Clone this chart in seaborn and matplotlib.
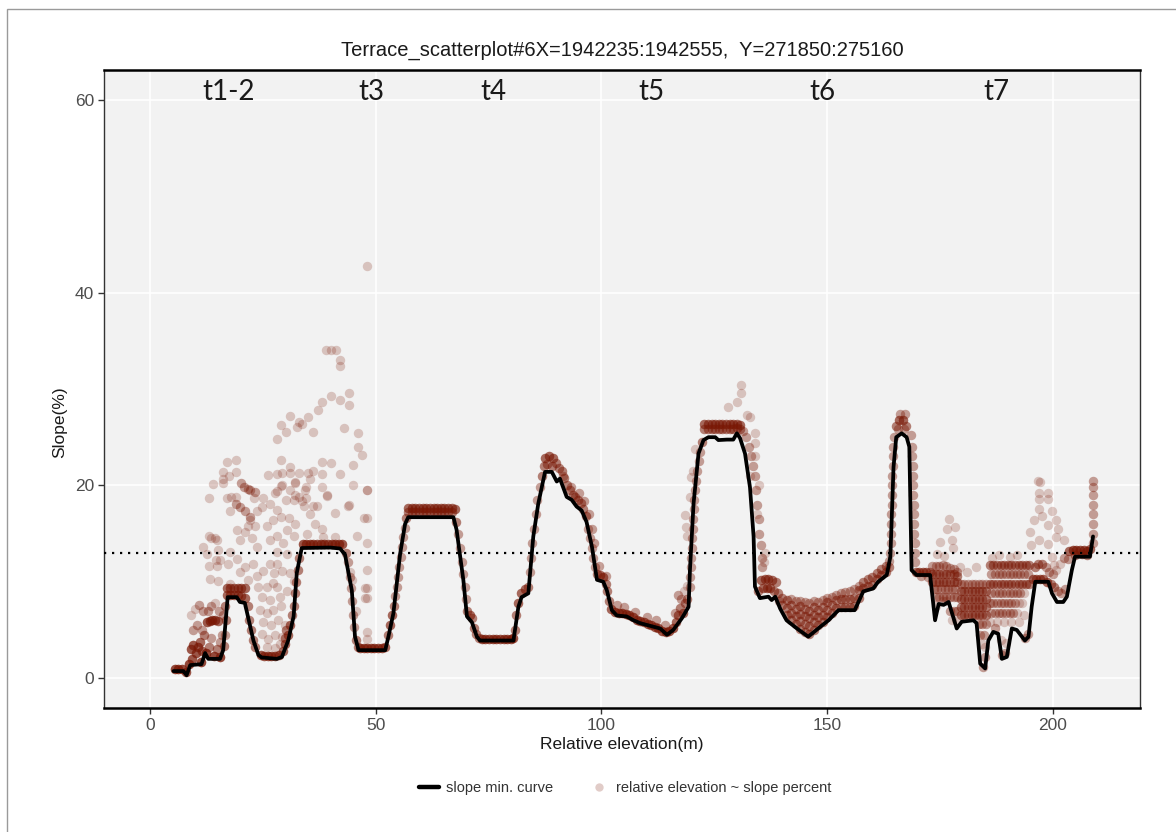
import numpy as np
import pandas as pd
import matplotlib
matplotlib.use("Agg")
import matplotlib.pyplot as plt
import seaborn as sns
from matplotlib.lines import Line2D

# ---------------- data ----------------
title = "Terrace_scatterplot#6X=1942235:1942555,  Y=271850:275160"
terrace_labels = ["t1-2", "t3", "t4", "t5", "t6", "t7"]
terrace_label_x = [17.3, 49.0, 76.0, 111.0, 149.0, 187.6]
threshold = 13

curve_x = [5.2, 7.4, 8.1, 8.9, 11.4, 12.2, 12.9, 15.5, 16.2, 17.2, 19.2, 19.9, 21.0, 22.9, 24.0, 24.7,
           28.1, 29.2, 30.6, 31.8, 32.5, 33.6, 39.9, 42.1, 43.2, 44.7, 45.4, 46.2, 52.1, 52.8, 53.9,
           55.4, 56.5, 57.2, 67.2, 67.9, 69.4, 70.2, 71.3, 72.4, 73.1, 80.5, 81.6, 82.3, 83.8, 84.9,
           86.0, 87.5, 89.0, 90.1, 90.8, 92.3, 93.4, 94.5, 95.6, 96.7, 97.9, 99.0, 100.4, 101.2,
           102.3, 103.4, 105.6, 107.1, 108.6, 113.0, 114.5, 115.9, 117.8, 119.3, 119.6, 120.4, 121.5,
           122.6, 123.7, 125.2, 125.9, 127.8, 129.2, 130.0, 130.7, 131.8, 132.9, 133.7, 134.0, 135.1,
           137.0, 137.7, 138.5, 139.6, 141.0, 143.3, 145.8, 148.4, 150.3, 152.5, 156.1, 158.0, 160.2,
           161.3, 163.2, 164.0, 164.7, 165.3, 166.5, 167.6, 168.2, 168.7, 169.8, 172.8, 173.9, 174.7,
           175.8, 176.9, 178.7, 179.8, 182.4, 183.1, 183.9, 185.0, 185.7, 186.8, 187.9, 188.7, 189.8,
           190.9, 192.0, 193.8, 194.6, 195.3, 196.1, 199.0, 199.8, 200.9, 202.3, 203.1, 204.2, 204.9,
           208.2, 208.9]
curve_y = [0.73, 0.73, 0.3, 1.35, 1.45, 2.6, 2.0, 2.0, 2.9, 8.4, 8.4, 7.9, 7.8, 3.9, 2.4, 2.15,
           2.0, 2.2, 3.9, 6.4, 10.9, 13.5, 13.55, 13.45, 12.8, 9.1, 4.3, 2.9, 2.9, 4.3, 6.7,
           12.9, 16.0, 16.7, 16.7, 15.4, 10.2, 6.4, 5.8, 4.3, 3.9, 3.9, 7.4, 8.4, 8.8, 14.7,
           18.1, 21.4, 21.4, 20.4, 20.7, 18.8, 18.5, 17.8, 17.4, 16.2, 13.6, 10.2, 10.0, 9.1,
           7.05, 6.5, 6.4, 6.0, 5.7, 5.15, 4.5, 5.0, 6.2, 7.4, 11.2, 18.1, 23.3,
           24.7, 25.0, 25.0, 24.7, 24.75, 24.75, 25.4, 24.9, 23.3, 19.8, 14.7, 9.5, 8.3,
           8.45, 8.1, 8.45, 7.2, 6.0, 5.15, 4.3, 5.3, 6.0, 7.05, 7.05, 9.0, 9.3,
           10.0, 10.7, 12.6, 21.9, 25.0, 25.4, 25.0, 24.0, 11.2, 10.7, 10.7, 6.0, 7.7,
           7.6, 7.9, 5.15, 5.85, 6.0, 5.7, 1.5, 1.0, 3.9, 4.8, 4.6, 2.0, 2.2,
           5.15, 5.0, 3.9, 4.3, 7.4, 10.0, 10.0, 8.8, 7.9, 7.9, 8.45, 11.2, 12.6,
           12.6, 14.7]

# scatter points near the curve: (relative elevation, slope, number of overlapping observations)
pts_t12 = [(5.5, 0.9, 6), (6.3, 0.9, 6), (7.1, 0.9, 6), (7.9, 0.6, 5),
           (8.6, 1.5, 6), (9.2, 2.0, 5), (9.0, 3.0, 5), (9.6, 3.4, 5), (10.2, 2.6, 5), (10.6, 3.2, 5),
           (11.2, 1.7, 6), (11.0, 3.8, 4), (11.6, 2.8, 4), (12.0, 4.5, 3), (12.4, 2.6, 6), (12.6, 5.8, 5),
           (13.2, 5.9, 5), (13.8, 6.0, 5), (14.4, 6.0, 5), (15.0, 5.9, 4), (13.0, 3.2, 3), (13.6, 4.2, 2),
           (14.2, 2.3, 6), (14.8, 3.0, 3), (15.4, 2.2, 6), (15.6, 3.8, 2), (12.8, 7.0, 2), (13.5, 7.5, 2),
           (14.5, 7.8, 1), (15.2, 7.0, 2), (11.5, 5.0, 2), (16.0, 4.5, 2), (16.2, 6.5, 2),
           (9.0, 6.5, 1), (10.0, 7.2, 1), (10.9, 7.6, 2), (11.8, 7.0, 2), (9.5, 5.0, 2), (10.5, 5.5, 2),
           (17.0, 9.3, 4), (17.8, 9.3, 4), (18.6, 9.3, 4), (19.4, 9.3, 4), (20.2, 9.3, 4), (21.0, 9.3, 4),
           (17.0, 8.6, 4), (17.8, 8.6, 4), (18.6, 8.6, 4), (19.4, 8.6, 4), (20.2, 8.5, 4), (21.0, 8.3, 4),
           (16.6, 7.5, 3), (16.8, 6.0, 3), (16.6, 4.5, 2), (16.4, 3.3, 3),
           (21.6, 7.5, 3), (22.0, 6.0, 3), (22.4, 5.0, 3), (22.8, 4.0, 3), (23.3, 3.2, 3),
           (24.5, 2.4, 5), (25.3, 2.3, 5), (26.1, 2.3, 5), (26.9, 2.3, 5), (27.7, 2.3, 5), (28.5, 2.4, 5),
           (29.5, 2.8, 4), (30.0, 3.5, 4), (30.6, 4.5, 4), (31.0, 5.5, 4), (31.4, 6.5, 3), (30.2, 5.0, 3),
           (29.8, 4.2, 3), (31.8, 7.5, 3), (32.1, 8.8, 3), (32.4, 10.0, 3), (32.7, 11.2, 3), (33.0, 12.5, 3),
           (20.2, 20.2, 2), (20.9, 19.8, 2), (21.6, 19.6, 2), (22.2, 19.5, 2), (23.3, 19.3, 2),
           (19.0, 18.1, 2), (20.0, 17.8, 2), (21.0, 17.3, 2), (22.1, 16.7, 2)]

pts_t3_t4 = [(33.8, 13.9, 5), (34.6, 13.9, 5), (35.4, 13.9, 5), (36.2, 13.9, 5), (37.0, 13.9, 5),
             (37.8, 13.9, 5), (38.6, 13.9, 5), (39.4, 13.9, 5), (40.2, 13.9, 5), (41.0, 13.9, 5),
             (41.8, 13.9, 5), (42.6, 13.9, 5),
             (43.3, 13.0, 3), (43.8, 12.0, 2), (44.2, 10.5, 2), (44.5, 9.3, 2), (44.8, 8.0, 2),
             (45.0, 6.5, 2), (45.2, 5.3, 2), (45.6, 4.0, 3), (46.0, 3.2, 3),
             (46.5, 3.1, 5), (47.3, 3.1, 5), (48.1, 3.1, 5), (48.9, 3.1, 5), (49.7, 3.1, 5),
             (50.5, 3.1, 5), (51.3, 3.1, 5), (52.0, 3.2, 4),
             (52.8, 4.5, 3), (53.2, 5.5, 4), (53.6, 6.5, 4), (54.0, 7.5, 3), (54.3, 8.5, 2),
             (54.6, 9.5, 2), (54.9, 10.5, 2), (55.2, 11.5, 2), (55.5, 12.6, 2), (55.8, 13.6, 2),
             (56.1, 14.6, 2), (56.4, 15.6, 2), (56.8, 16.6, 3),
             (57.2, 17.7, 4), (58.0, 17.7, 4), (58.8, 17.7, 4), (59.6, 17.7, 4), (60.4, 17.7, 4),
             (61.2, 17.7, 4), (62.0, 17.7, 4), (62.8, 17.7, 4), (63.6, 17.7, 4), (64.4, 17.7, 4),
             (65.2, 17.7, 4), (66.0, 17.7, 4), (66.8, 17.7, 4), (67.6, 17.6, 4),
             (57.2, 17.2, 3), (58.0, 17.2, 3), (58.8, 17.2, 3), (59.6, 17.2, 3), (60.4, 17.2, 3),
             (61.2, 17.2, 3), (62.0, 17.2, 3), (62.8, 17.2, 3), (63.6, 17.2, 3), (64.4, 17.2, 3),
             (65.2, 17.2, 3), (66.0, 17.2, 3), (66.8, 17.2, 3),
             (67.8, 16.2, 3), (68.2, 15.0, 2), (68.6, 13.5, 2), (69.0, 12.0, 2), (69.4, 10.8, 2),
             (69.7, 9.5, 2), (70.0, 8.2, 2), (70.3, 7.0, 3), (70.8, 6.5, 4), (71.4, 6.2, 3),
             (71.8, 5.2, 3), (72.3, 4.6, 3), (72.8, 4.2, 3),
             (73.5, 4.1, 5), (74.3, 4.1, 5), (75.1, 4.1, 5), (75.9, 4.1, 5), (76.7, 4.1, 5),
             (77.5, 4.1, 5), (78.3, 4.1, 5), (79.1, 4.1, 5), (79.9, 4.1, 5), (80.5, 4.2, 5)]

pts_t5 = [(80.8, 5.0, 3), (81.1, 6.5, 3), (81.6, 7.8, 4), (82.2, 8.8, 4), (83.0, 9.2, 4), (83.8, 9.5, 3),
          (84.1, 11.0, 2), (84.4, 12.5, 2), (84.7, 14.0, 2), (85.0, 15.5, 2), (85.4, 17.0, 2),
          (85.8, 18.5, 2), (86.3, 19.8, 2), (86.8, 21.0, 3), (87.3, 22.0, 3),
          (87.6, 22.8, 4), (88.4, 23.0, 4), (89.2, 22.8, 4), (90.0, 22.3, 3), (88.0, 22.2, 3),
          (89.0, 22.0, 3), (90.6, 21.8, 3), (91.2, 21.5, 3), (91.8, 20.8, 3), (92.4, 20.0, 3),
          (93.0, 19.5, 3), (93.6, 19.0, 3), (94.2, 18.8, 3), (94.8, 18.5, 3), (95.4, 18.2, 3),
          (96.0, 17.5, 3), (96.6, 16.8, 3), (97.0, 15.5, 2), (97.4, 14.5, 2), (97.8, 13.5, 2),
          (98.2, 12.5, 2), (98.6, 11.5, 2), (99.0, 10.8, 3), (99.6, 10.7, 4), (100.3, 10.5, 4),
          (100.9, 9.8, 3), (101.3, 9.0, 3), (101.7, 8.0, 3), (102.2, 7.2, 4),
          (103.0, 6.9, 5), (103.8, 6.8, 5), (104.6, 6.8, 5), (105.4, 6.7, 5), (106.2, 6.5, 5),
          (107.0, 6.3, 5), (107.8, 6.0, 5), (108.6, 5.9, 5), (109.4, 5.8, 5), (110.2, 5.6, 5),
          (111.0, 5.5, 5), (111.8, 5.3, 5), (112.6, 5.2, 5), (113.4, 4.9, 5), (114.2, 4.8, 5),
          (115.0, 4.9, 5), (115.8, 5.2, 5), (116.5, 5.8, 4), (117.0, 6.5, 4), (117.5, 7.3, 3),
          (118.0, 6.8, 4), (118.5, 7.8, 3), (119.0, 8.2, 3), (117.6, 8.2, 2),
          (91.5, 21.0, 2), (93.3, 19.8, 2), (95.0, 19.2, 2), (96.2, 18.4, 2), (97.3, 17.0, 2),
          (98.0, 15.5, 2), (98.4, 14.0, 2), (99.4, 11.6, 2), (101.0, 10.6, 2), (103.5, 7.6, 2),
          (105.0, 7.4, 2), (107.5, 6.9, 2), (110.0, 6.3, 2), (112.0, 6.0, 2), (114.0, 5.5, 2),
          (116.2, 6.8, 2), (117.0, 8.6, 2), (118.2, 9.0, 1), (119.0, 9.6, 1),
          (119.6, 9.5, 2), (119.6, 10.5, 2), (119.8, 11.5, 2), (119.9, 12.5, 2), (120.0, 13.5, 2),
          (120.1, 14.5, 2), (120.2, 15.5, 2), (120.3, 16.5, 2), (120.5, 17.5, 2), (120.6, 18.5, 2),
          (120.8, 19.5, 2), (121.0, 20.5, 2), (121.2, 21.5, 2), (121.5, 22.5, 2), (121.8, 23.5, 2),
          (122.2, 24.5, 3),
          (122.8, 26.4, 4), (123.6, 26.4, 4), (124.4, 26.4, 4), (125.2, 26.4, 4), (126.0, 26.4, 4),
          (126.8, 26.4, 4), (127.6, 26.4, 4), (128.4, 26.4, 4), (129.2, 26.4, 4), (130.0, 26.4, 4),
          (130.8, 26.3, 4),
          (122.8, 25.8, 3), (123.6, 25.8, 3), (124.4, 25.8, 3), (125.2, 25.8, 3), (126.0, 25.8, 3),
          (126.8, 25.8, 3), (127.6, 25.8, 3), (128.4, 25.8, 3), (129.2, 25.8, 3), (130.0, 26.0, 3),
          (130.8, 25.8, 3),
          (131.4, 25.6, 2), (132.0, 25.0, 2), (132.6, 24.0, 2), (133.2, 23.0, 2), (133.6, 22.0, 2),
          (134.0, 21.0, 2), (134.3, 19.5, 2), (134.5, 18.0, 2), (134.8, 16.5, 2), (135.0, 15.0, 2),
          (135.3, 13.8, 2), (135.6, 12.5, 2), (135.5, 11.5, 2), (136.0, 12.0, 1), (134.4, 17.0, 1),
          (134.8, 20.0, 1), (136.2, 13.0, 1), (133.0, 21.0, 1), (134.0, 23.0, 1),
          (135.4, 10.2, 4), (136.2, 10.3, 4), (137.0, 10.3, 4), (137.8, 10.2, 4), (138.6, 10.0, 3),
          (135.8, 9.3, 4), (136.6, 9.3, 4), (137.4, 9.3, 4), (138.2, 9.0, 3), (139.0, 8.8, 3),
          (134.6, 9.0, 3), (139.4, 8.0, 2)]

pts_t6 = [(140, 7.6, 3), (140, 8.3, 3),
          (141, 6.5, 3), (141, 7.3, 3), (141, 8.1, 3),
          (142, 6.0, 3), (142, 6.8, 3), (142, 7.6, 3), (142, 8.2, 2),
          (143, 5.6, 3), (143, 6.4, 3), (143, 7.2, 3), (143, 8.0, 2),
          (144, 5.1, 3), (144, 5.9, 3), (144, 6.7, 3), (144, 7.5, 3), (144, 8.0, 2),
          (145, 4.8, 3), (145, 5.6, 3), (145, 6.4, 3), (145, 7.2, 3), (145, 7.9, 2),
          (146, 4.6, 3), (146, 5.4, 3), (146, 6.2, 3), (146, 7.0, 3), (146, 7.8, 2),
          (147, 5.0, 3), (147, 5.8, 3), (147, 6.6, 3), (147, 7.4, 3), (147, 8.0, 2),
          (148, 5.5, 3), (148, 6.3, 3), (148, 7.1, 3), (148, 7.9, 2),
          (149, 5.8, 3), (149, 6.6, 3), (149, 7.4, 3), (149, 8.1, 2),
          (150, 6.3, 3), (150, 7.1, 3), (150, 7.9, 3), (150, 8.3, 2),
          (151, 6.8, 3), (151, 7.6, 3), (151, 8.4, 2),
          (152, 7.3, 3), (152, 8.1, 3), (152, 8.6, 2),
          (153, 7.4, 3), (153, 8.2, 3), (153, 8.8, 2),
          (154, 7.4, 3), (154, 8.2, 3), (154, 8.9, 2),
          (155, 7.4, 3), (155, 8.2, 3), (155, 9.0, 2),
          (156, 7.5, 3), (156, 8.3, 3), (156, 9.2, 2),
          (157, 8.3, 3), (157, 9.1, 3), (157, 9.6, 2),
          (158, 9.3, 3), (158, 10.0, 3), (159, 9.6, 3), (159, 10.3, 3),
          (160, 9.7, 3), (160, 10.5, 3), (161, 10.3, 3), (161, 10.9, 3),
          (162, 10.7, 3), (162, 11.3, 3), (163, 11.0, 3), (163, 11.6, 3),
          (163.8, 11.5, 3), (163.8, 12.2, 2),
          (164.0, 13.0, 2), (164.1, 14.0, 2), (164.1, 15.0, 2), (164.2, 16.0, 2), (164.2, 17.0, 2),
          (164.3, 18.0, 2), (164.3, 19.0, 2), (164.4, 20.0, 2), (164.4, 21.0, 2), (164.5, 22.0, 2),
          (164.5, 23.0, 2), (164.6, 24.0, 2), (164.8, 25.0, 2),
          (165.3, 26.2, 3), (166.0, 26.8, 4), (166.7, 26.8, 4), (167.4, 26.2, 3), (165.8, 25.8, 2),
          (167.0, 25.8, 2), (166.1, 27.4, 2), (167.2, 27.4, 2),
          (168.5, 25.2, 2), (168.8, 24.0, 2), (168.9, 23.0, 2), (169.0, 22.0, 2), (169.0, 21.0, 2),
          (169.1, 20.0, 2), (169.1, 19.0, 2), (169.2, 18.0, 2), (169.2, 17.0, 2), (169.3, 16.0, 2),
          (169.3, 15.0, 2), (169.4, 14.0, 2), (169.5, 13.0, 2), (169.5, 12.0, 2)]

pts_t7 = [(169.6, 11.0, 4), (170.4, 11.0, 4), (171.2, 11.0, 4), (172.0, 11.0, 4), (172.8, 11.0, 3),
          (170.8, 10.6, 2), (172.4, 10.5, 2),
          (173.2, 11.6, 2), (174.0, 11.6, 2), (174.8, 11.6, 2), (175.6, 11.7, 2), (176.4, 11.6, 2),
          (177.2, 11.4, 2), (178.0, 11.3, 2), (178.8, 11.0, 2),
          (173.2, 10.8, 3), (174.0, 10.8, 3), (174.8, 10.8, 3), (175.6, 10.8, 3), (176.4, 10.8, 3),
          (177.2, 10.8, 3), (178.0, 10.8, 3), (178.8, 10.6, 3),
          (173.2, 10.0, 3), (174.0, 10.0, 3), (174.8, 10.0, 3), (175.6, 10.0, 3), (176.4, 10.0, 3),
          (177.2, 10.0, 3), (178.0, 10.0, 3), (178.8, 10.0, 3),
          (173.6, 9.2, 2), (174.4, 9.2, 2), (175.2, 9.2, 2), (176.0, 9.2, 2), (176.8, 9.2, 2),
          (177.6, 9.2, 2), (178.4, 9.2, 2),
          (174.0, 8.4, 2), (174.8, 8.4, 2), (175.6, 8.4, 2), (176.4, 8.4, 2), (177.2, 8.4, 2),
          (178.0, 8.4, 2), (178.8, 8.4, 2),
          (177.2, 7.0, 2), (178.0, 7.0, 2), (178.8, 7.0, 2), (177.6, 6.0, 1), (178.6, 6.0, 1),
          (174.0, 7.5, 1), (175.6, 8.0, 1), (176.4, 8.0, 1),
          (179.6, 9.8, 2), (180.4, 9.8, 2), (181.2, 9.8, 2), (182.0, 9.8, 2), (182.8, 9.8, 2),
          (183.6, 9.8, 2), (184.4, 9.8, 2), (185.2, 9.8, 2),
          (179.6, 9.0, 3), (180.4, 9.0, 3), (181.2, 9.0, 3), (182.0, 9.0, 3), (182.8, 9.0, 3),
          (183.6, 9.0, 3), (184.4, 9.0, 3), (185.2, 9.0, 3),
          (179.6, 8.2, 3), (180.4, 8.2, 3), (181.2, 8.2, 3), (182.0, 8.2, 3), (182.8, 8.2, 3),
          (183.6, 8.2, 3), (184.4, 8.2, 3), (185.2, 8.2, 3),
          (179.6, 7.4, 3), (180.4, 7.4, 3), (181.2, 7.4, 3), (182.0, 7.4, 3), (182.8, 7.4, 3),
          (183.6, 7.4, 3), (184.4, 7.4, 3), (185.2, 7.4, 3),
          (179.6, 6.6, 3), (180.4, 6.6, 3), (181.2, 6.6, 3), (182.0, 6.6, 3), (182.8, 6.6, 3),
          (183.6, 6.6, 3), (184.4, 6.6, 3), (185.2, 6.6, 3),
          (183.6, 5.6, 2), (184.4, 5.6, 2), (185.2, 5.6, 2), (183.9, 4.5, 2), (184.8, 4.5, 2),
          (184.2, 3.5, 1), (185.0, 3.2, 1), (184.6, 1.2, 2), (185.0, 2.2, 2),
          (186.0, 11.7, 3), (186.8, 11.7, 3), (187.6, 11.7, 3), (188.4, 11.7, 3), (189.2, 11.7, 3),
          (190.0, 11.7, 3), (190.8, 11.7, 3), (191.6, 11.7, 3), (192.4, 11.7, 3), (193.2, 11.7, 3),
          (194.0, 11.7, 3), (194.8, 11.7, 3),
          (186.4, 10.8, 2), (187.2, 10.8, 2), (188.0, 10.8, 2), (188.8, 10.8, 2), (189.6, 10.8, 2),
          (190.4, 10.8, 2), (191.2, 10.8, 2), (192.0, 10.8, 2), (192.8, 10.8, 2), (193.6, 10.8, 2),
          (194.4, 10.8, 2),
          (186.0, 9.8, 3), (186.8, 9.8, 3), (187.6, 9.8, 3), (188.4, 9.8, 3), (189.2, 9.8, 3),
          (190.0, 9.8, 3), (190.8, 9.8, 3), (191.6, 9.8, 3), (192.4, 9.8, 3), (193.2, 9.8, 3),
          (194.0, 9.8, 3), (194.8, 9.8, 3),
          (186.4, 8.8, 2), (187.2, 8.8, 2), (188.0, 8.8, 2), (188.8, 8.8, 2), (189.6, 8.8, 2),
          (190.4, 8.8, 2), (191.2, 8.8, 2), (192.0, 8.8, 2), (192.8, 8.8, 2), (193.6, 8.8, 1),
          (186.0, 7.8, 2), (186.8, 7.8, 2), (187.6, 7.8, 2), (188.4, 7.8, 2), (189.2, 7.8, 2),
          (190.0, 7.8, 2), (190.8, 7.8, 2), (191.6, 7.8, 2), (192.4, 7.8, 1), (193.2, 7.8, 1),
          (186.4, 6.8, 2), (187.2, 6.8, 2), (188.0, 6.8, 2), (188.8, 6.8, 2), (189.6, 6.8, 2),
          (190.4, 6.8, 2), (191.2, 6.8, 2), (192.0, 6.8, 1), (193.6, 6.5, 1),
          (186.0, 5.8, 1), (187.6, 5.8, 1), (189.2, 5.8, 1), (190.8, 5.8, 1), (192.4, 5.8, 1),
          (188.7, 2.4, 2), (189.4, 2.6, 2), (188.4, 4.0, 1), (189.6, 3.6, 1), (193.8, 4.2, 2),
          (194.4, 4.6, 2), (187.2, 5.2, 2),
          (195.5, 10.3, 4), (196.3, 10.3, 4), (197.1, 10.3, 4), (197.9, 10.3, 4), (198.7, 10.0, 4),
          (199.5, 9.8, 3), (200.3, 9.5, 3), (201.1, 9.0, 2), (201.9, 8.8, 2), (202.7, 9.2, 2),
          (196.0, 11.5, 3), (196.8, 11.8, 3), (197.6, 11.8, 3), (198.4, 11.5, 2), (199.2, 11.0, 2),
          (200.0, 10.8, 2), (200.8, 11.2, 1), (201.6, 11.8, 1), (202.4, 12.5, 2),
          (203.4, 12.4, 2), (203.6, 13.2, 4), (204.4, 13.3, 5), (205.2, 13.3, 5), (206.0, 13.3, 5),
          (206.8, 13.3, 5), (207.6, 13.2, 5), (208.2, 13.4, 4), (205.0, 12.8, 3), (206.5, 12.9, 3),
          (207.5, 12.8, 3),
          (208.9, 14.0, 2), (208.9, 15.0, 2), (208.9, 16.0, 2), (208.9, 17.0, 2), (208.9, 18.0, 2),
          (208.9, 19.0, 2), (208.9, 19.8, 2), (208.9, 20.5, 2)]

# scattered single points away from the curve
cloud_x = [48.1, 39.0, 40.0, 41.1, 42.1, 42.1, 40.1, 44.1, 42.1, 44.1, 38.1, 37.1, 31.1, 35.1, 29.1,
           33.1, 33.7, 32.5, 30.1, 36.1, 28.1, 43.0, 46.1, 46.1, 47.0, 45.0, 42.1, 48.1, 45.0, 38.1,
           40.1, 29.1, 28.1, 29.2, 31.0, 33.1, 35.1, 36.1, 31.1, 26.1, 17.1, 19.1, 16.1, 16.1, 16.1,
           14.0, 17.6, 19.1, 13.1, 17.1, 19.0, 23.1, 25.1, 28.1, 29.1, 30.1, 32.1, 33.1, 33.7, 34.5,
           34.5, 36.2, 38.1, 39.1, 44.1, 32.1,
           11.7, 13.0, 13.6, 14.3, 14.9, 13.1, 14.6, 14.8, 12.7, 17.7, 18.0, 19.2, 19.9, 21.0, 22.1,
           23.3, 21.8, 22.5, 23.6, 15.1, 17.7, 19.2, 15.5, 17.3, 13.3, 15.1, 17.7, 19.9, 21.0, 22.8,
           21.8, 23.6, 25.1, 24.0, 25.8, 27.2, 24.7, 26.6, 28.8, 24.4, 25.8, 27.2, 29.0, 25.1, 26.9,
           28.4, 29.8, 24.7, 26.2, 27.7, 29.2, 25.8, 27.7, 28.8, 26.6, 28.1, 29.5, 25.8, 27.2, 29.0,
           30.8, 30.4, 32.2, 28.1, 30.3, 28.1, 26.6, 29.2, 31.0, 27.4, 28.1, 30.3, 31.8, 31.8, 34.7,
           36.6, 38.1, 35.4, 36.9, 34.0, 31.8, 28.1, 26.6, 24.7, 23.6, 27.7, 31.0, 29.2, 32.2, 34.4,
           35.5, 38.1,
           48.0, 39.1, 43.9, 41.0, 47.4, 48.0, 38.4, 41.0, 45.8, 48.0, 48.0, 47.6, 48.1, 47.6, 48.1,
           45.6, 48.0, 48.0, 44.2, 44.7,
           128.1, 130.0, 130.9, 130.9, 132.2, 132.9, 134.0, 134.0, 118.5, 118.7, 119.0, 119.6, 119.9,
           120.3, 120.7,
           176.9, 176.6, 178.3, 175.0, 177.6, 177.8, 174.3, 175.8, 196.7, 197.1, 196.9, 198.9, 196.9,
           198.9, 196.9, 199.8, 195.8, 197.5, 198.9, 200.6, 201.2, 194.9, 200.8, 202.5, 195.1, 197.0,
           198.9, 199.9, 200.2, 186.5, 188.0, 190.5, 192.0, 183.0, 181.0, 179.5]
cloud_y = [42.8, 34.0, 34.0, 34.0, 33.0, 32.4, 29.3, 29.6, 28.9, 28.3, 28.6, 27.8, 27.2, 27.1, 26.3,
           26.6, 26.4, 26.1, 25.5, 25.5, 24.8, 26.0, 25.4, 24.0, 23.1, 22.1, 21.2, 19.5, 20.0, 22.4,
           22.3, 22.6, 21.2, 21.3, 21.3, 21.3, 21.3, 21.5, 21.9, 21.1, 22.4, 22.6, 21.4, 20.7, 20.2,
           20.1, 21.0, 21.4, 18.7, 18.7, 18.8, 18.7, 18.7, 19.4, 19.9, 18.5, 19.0, 18.8, 18.4, 18.7,
           19.8, 17.9, 19.8, 18.9, 18.0, 20.4,
           13.6, 14.7, 14.5, 14.5, 14.3, 11.6, 12.3, 11.6, 12.9, 17.3, 18.8, 15.4, 14.3, 15.2, 16.4,
           15.8, 15.8, 14.5, 13.6, 13.3, 13.1, 12.4, 12.3, 11.8, 10.3, 10.1, 9.8, 11.0, 11.5, 11.8,
           10.2, 10.6, 11.1, 9.5, 9.5, 9.9, 8.4, 8.1, 8.4, 7.1, 6.8, 7.1, 7.5, 5.8, 5.5,
           6.0, 5.5, 4.6, 4.1, 4.5, 4.3, 3.2, 3.1, 3.5, 14.3, 14.7, 14.0, 15.8, 16.4, 16.7,
           16.6, 15.4, 16.0, 13.1, 12.9, 11.8, 11.8, 11.1, 10.9, 10.9, 9.5, 9.0, 10.1, 14.7, 15.0,
           16.0, 15.5, 17.0, 17.9, 17.9, 18.5, 17.4, 18.1, 17.8, 17.3, 19.2, 19.5, 20.0, 20.2, 19.5,
           20.7, 21.2,
           19.5, 19.0, 17.9, 17.1, 16.6, 16.6, 14.6, 14.6, 14.7, 14.0, 11.2, 9.3, 9.3, 8.3, 8.3,
           7.0, 4.8, 4.1, 11.0, 10.2,
           28.1, 28.6, 30.4, 29.6, 27.3, 27.1, 25.4, 24.4, 16.9, 15.7, 14.7, 18.8, 20.9,
           21.5, 23.8,
           16.5, 15.5, 15.7, 14.1, 14.3, 13.5, 12.9, 12.7, 20.5, 20.3, 19.2, 19.2, 18.6,
           18.6, 17.5, 17.3, 16.4, 16.8, 15.9, 16.4, 15.5, 15.2, 14.6, 14.3, 13.8, 14.3,
           13.9, 12.6, 11.7, 12.5, 12.8, 12.6, 12.8, 11.5, 11.0, 11.5]

# ---------------- build frames ----------------
band = pts_t12 + pts_t3_t4 + pts_t5 + pts_t6 + pts_t7
bx = np.array([p[0] for p in band], float)
by = np.array([p[1] for p in band], float)
bn = np.array([p[2] for p in band], int)
scatter_df = pd.DataFrame({
    "elev": np.concatenate([np.repeat(bx, bn), np.array(cloud_x, float)]),
    "slope": np.concatenate([np.repeat(by, bn), np.array(cloud_y, float)]),
})
curve_df = pd.DataFrame({"elev": curve_x, "slope": curve_y})

# ---------------- style ----------------
sns.set_style("darkgrid", {"axes.facecolor": "#f2f2f2", "grid.color": "white"})
plt.rcParams["font.family"] = ["Liberation Sans", "DejaVu Sans"]

W, H = 1176, 832
fig = plt.figure(figsize=(W / 100, H / 100), dpi=100)
fig.patch.set_facecolor("white")
ax = fig.add_axes([104 / W, 1 - 708 / H, (1140 - 104) / W, (708 - 70) / H])

pt_color = "#7a1805"
sns.scatterplot(data=scatter_df, x="elev", y="slope", color=pt_color, alpha=0.22, s=46,
                linewidth=0, ax=ax, legend=False, zorder=2)
sns.lineplot(data=curve_df, x="elev", y="slope", sort=False, estimator=None, color="black",
             linewidth=2.7, ax=ax, legend=False, zorder=3)
ax.axhline(threshold, color="black", linestyle=(0, (1, 2.6)), linewidth=1.6, zorder=4)

ax.set_xlim(-10.2, 219.3)
ax.set_ylim(-3.1, 63.1)
ax.set_xticks([0, 50, 100, 150, 200])
ax.set_yticks([0, 20, 40, 60])
ax.grid(True, color="white", linewidth=1.2)
ax.set_axisbelow(True)
ax.tick_params(axis="both", which="major", labelsize=12.5, labelcolor="#4d4d4d",
               color="#333333", length=4, width=1, bottom=True, left=True, pad=3)
ax.set_xlabel("")
ax.set_ylabel("")
for side in ["top", "bottom"]:
    ax.spines[side].set_visible(True)
    ax.spines[side].set_color("black")
    ax.spines[side].set_linewidth(1.8)
for side in ["left", "right"]:
    ax.spines[side].set_visible(True)
    ax.spines[side].set_color("#333333")
    ax.spines[side].set_linewidth(1.0)

for lab, xp in zip(terrace_labels, terrace_label_x):
    ax.text(xp, 60.8, lab, ha="center", va="center", fontsize=20, color="#1a1a1a",
            family=["Lato", "DejaVu Sans"], zorder=5)

fig.text(622 / W, 1 - 50 / H, title, ha="center", va="center", fontsize=14.5, color="#1a1a1a")
fig.text(622 / W, 1 - 745 / H, "Relative elevation(m)", ha="center", va="center",
         fontsize=12.5, color="#1a1a1a")
fig.text(60 / W, 1 - 422 / H, "Slope(%)", ha="center", va="center", rotation=90,
         fontsize=12.5, color="#1a1a1a")

handles = [Line2D([0], [0], color="black", lw=3.2),
           Line2D([0], [0], marker="o", ls="", markerfacecolor=pt_color, markeredgewidth=0,
                  alpha=0.22, markersize=6)]
fig.legend(handles, ["slope min. curve", "relative elevation ~ slope percent"],
           loc="center", bbox_to_anchor=(625 / W, 1 - 788 / H), ncol=2, frameon=False,
           fontsize=10.5, handlelength=1.4, columnspacing=2.4, handletextpad=0.5,
           labelcolor="#333333")

fig.add_artist(plt.Rectangle((7 / W, -0.05), 1.2, (H - 9) / H + 0.05, transform=fig.transFigure,
                             fill=False, edgecolor="#9a9a9a", linewidth=1.0))

fig.savefig("out.png", dpi=100)
